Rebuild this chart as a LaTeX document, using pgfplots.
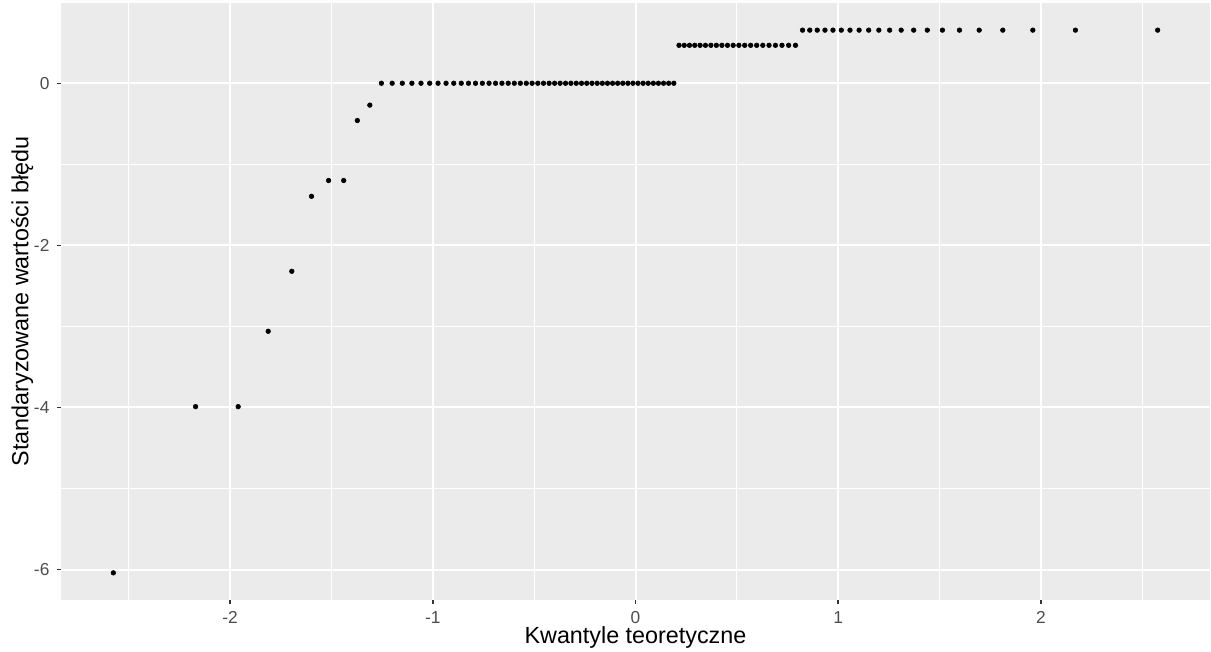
\documentclass[border=0pt]{standalone}
\usepackage{pgfplots}
\pgfplotsset{compat=1.18}
\usepackage{fontspec}
\setmainfont{Liberation Sans}
\definecolor{panelbg}{HTML}{EBEBEB}
\definecolor{gray30}{HTML}{4D4D4D}
\definecolor{gray20}{HTML}{333333}
\pgfplotstableread{
x y
-2.5758 -6.04
-2.1701 -3.99
-1.9600 -3.99
-1.8119 -3.06
-1.6954 -2.32
-1.5982 -1.395
-1.5141 -1.20
-1.4395 -1.20
-1.3722 -0.46
-1.3106 -0.27
-1.2536 0
-1.2004 0
-1.1503 0
-1.1031 0
-1.0581 0
-1.0152 0
-0.9741 0
-0.9346 0
-0.8965 0
-0.8596 0
-0.8239 0
-0.7892 0
-0.7554 0
-0.7225 0
-0.6903 0
-0.6588 0
-0.6280 0
-0.5978 0
-0.5681 0
-0.5388 0
-0.5101 0
-0.4817 0
-0.4538 0
-0.4261 0
-0.3989 0
-0.3719 0
-0.3451 0
-0.3186 0
-0.2924 0
-0.2663 0
-0.2404 0
-0.2147 0
-0.1891 0
-0.1637 0
-0.1383 0
-0.1130 0
-0.0878 0
-0.0627 0
-0.0376 0
-0.0125 0
0.0125 0
0.0376 0
0.0627 0
0.0878 0
0.1130 0
0.1383 0
0.1637 0
0.1891 0
0.2147 0.468
0.2404 0.468
0.2663 0.468
0.2924 0.468
0.3186 0.468
0.3451 0.468
0.3719 0.468
0.3989 0.468
0.4261 0.468
0.4538 0.468
0.4817 0.468
0.5101 0.468
0.5388 0.468
0.5681 0.468
0.5978 0.468
0.6280 0.468
0.6588 0.468
0.6903 0.468
0.7225 0.468
0.7554 0.468
0.7892 0.468
0.8239 0.655
0.8596 0.655
0.8965 0.655
0.9346 0.655
0.9741 0.655
1.0152 0.655
1.0581 0.655
1.1031 0.655
1.1503 0.655
1.2004 0.655
1.2536 0.655
1.3106 0.655
1.3722 0.655
1.4395 0.655
1.5141 0.655
1.5982 0.655
1.6954 0.655
1.8119 0.655
1.9600 0.655
2.1701 0.655
2.5758 0.655
}\qqdata
\begin{document}
\begin{tikzpicture}
\begin{axis}[
  scale only axis, width=861.75pt, height=447.75pt,
  at={(0,0)}, anchor=south west,
  xmin=-2.834, xmax=2.834, ymin=-6.375, ymax=0.99,
  axis background/.style={fill=panelbg},
  axis line style={draw=none},
  xtick={-2,-1,0,1,2}, ytick={-6,-4,-2,0},
  minor xtick={-2.5,-1.5,-0.5,0.5,1.5,2.5}, minor ytick={-5,-3,-1},
  grid=both,
  major grid style={white, line width=1.5pt},
  minor grid style={white, line width=0.75pt},
  tick align=outside, major tick length=3pt, minor tick length=0pt,
  xtick pos=bottom, ytick pos=left,
  every tick/.style={gray20, line width=1.1pt},
  /pgf/number format/assume math mode=true,
  tick label style={font=\fontsize{13}{15}\selectfont, text=gray30, inner sep=0pt},
  xticklabel style={anchor=north, yshift=-5.25pt},
  yticklabel style={anchor=east, xshift=-5.5pt},
  label style={font=\fontsize{17.5}{20}\selectfont, text=black},
  xlabel={Kwantyle teoretyczne},
  ylabel={Standaryzowane wartości błędu},
  xlabel style={at={(axis description cs:0.5,-0.0737)}, anchor=base},
  ylabel style={at={(axis description cs:-0.02843,0.5)}, anchor=base},
]
\addplot[only marks, mark=*, mark size=1.75pt, black] table[x=x, y=y] {\qqdata};
\end{axis}
\pgfresetboundingbox
\path (-45.75pt,-39pt) rectangle (862.5pt,450pt);
\end{tikzpicture}
\end{document}
